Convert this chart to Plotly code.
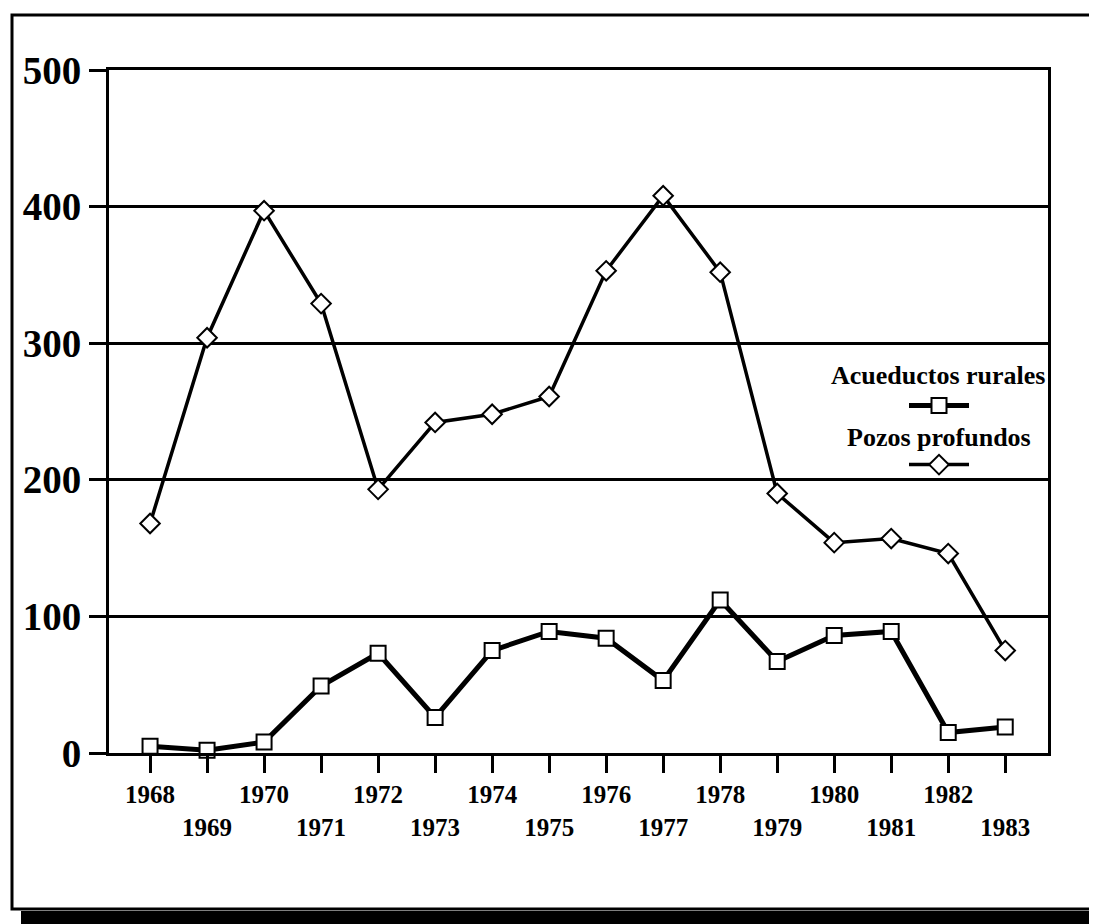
import plotly.graph_objects as go

years = list(range(1968, 1984))
acueductos = [5, 2, 8, 49, 73, 26, 75, 89, 84, 53, 112, 67, 86, 89, 15, 19]
pozos = [168, 304, 397, 329, 193, 242, 248, 261, 353, 408, 352, 190, 154, 157, 146, 75]
tick_labels = [str(y) if y % 2 == 0 else "<br>" + str(y) for y in years]
y_ticks = [0, 100, 200, 300, 400, 500]
series_names = ["Acueductos rurales", "Pozos profundos"]

FONT = "Liberation Serif, Times New Roman, serif"

fig = go.Figure()
fig.add_trace(go.Scatter(
    x=years, y=acueductos, mode="lines+markers", name=" ",
    line=dict(color="black", width=5),
    marker=dict(symbol="square", size=15, color="white",
                line=dict(color="black", width=2)),
    cliponaxis=False, legend="legend",
))
fig.add_trace(go.Scatter(
    x=years, y=pozos, mode="lines+markers", name=" ",
    line=dict(color="black", width=3.5),
    marker=dict(symbol="diamond", size=15, color="white",
                line=dict(color="black", width=2)),
    cliponaxis=False, legend="legend2",
))

# page body has an 8px margin: figure is sized/offset to compensate
OFF = 8
W, H = 1097 - OFF, 924 - OFF
PL, PR, PT, PB = 109, 1048, 70, 753   # plot area in page pixels
L, R, T = PL - OFF, W - (PR - OFF), PT - OFF
B = H - (PB - OFF)
pw, ph = PR - PL, PB - PT

def px(x):
    return (x - PL) / pw

def py(y):
    return (PB - y) / ph

fig.update_layout(
    width=W, height=H,
    margin=dict(l=L, r=R, t=T, b=B, autoexpand=False),
    paper_bgcolor="white", plot_bgcolor="white",
    font=dict(family=FONT, color="black", weight="bold"),
    legend=dict(x=px(904), y=py(406), xanchor="left", yanchor="middle",
                bgcolor="rgba(0,0,0,0)", borderwidth=0, font=dict(size=14),
                itemwidth=60),
    legend2=dict(x=px(904), y=py(465), xanchor="left", yanchor="middle",
                 bgcolor="rgba(0,0,0,0)", borderwidth=0, font=dict(size=14),
                 itemwidth=60),
    showlegend=True,
)

fig.update_xaxes(
    range=[1967.28, 1983.75], tickmode="array", tickvals=years, ticktext=tick_labels,
    showline=True, linecolor="black", linewidth=3, mirror=True,
    ticks="outside", ticklen=17, tickwidth=3, tickcolor="black",
    showgrid=False, zeroline=False,
    tickfont=dict(family=FONT, size=25, color="black", weight="bold"),
)
fig.update_yaxes(
    range=[0, 500], tickmode="array", tickvals=y_ticks,
    showline=True, linecolor="black", linewidth=3, mirror=True,
    ticks="outside", ticklen=17, tickwidth=3, tickcolor="black",
    showgrid=True, gridcolor="black", gridwidth=3, zeroline=False,
    tickfont=dict(family=FONT, size=39, color="black", weight="bold"),
)

fig.add_annotation(text=series_names[0], xref="paper", yref="paper",
                   x=px(829), y=py(375), xanchor="left", yanchor="middle",
                   showarrow=False, font=dict(family=FONT, size=26, weight="bold"))
fig.add_annotation(text=series_names[1], xref="paper", yref="paper",
                   x=px(939), y=py(437), xanchor="center", yanchor="middle",
                   showarrow=False, font=dict(family=FONT, size=26, weight="bold"))

# outer frame and scanned bottom strip
fig.add_shape(type="rect", xref="paper", yref="paper",
              x0=px(12), x1=px(1094), y0=py(909), y1=py(15),
              line=dict(color="black", width=3), fillcolor="rgba(0,0,0,0)", layer="below")
fig.add_shape(type="rect", xref="paper", yref="paper",
              x0=px(21), x1=px(1110), y0=py(935), y1=py(911),
              line=dict(width=0), fillcolor="black", layer="below")

fig.write_html("out.html")
